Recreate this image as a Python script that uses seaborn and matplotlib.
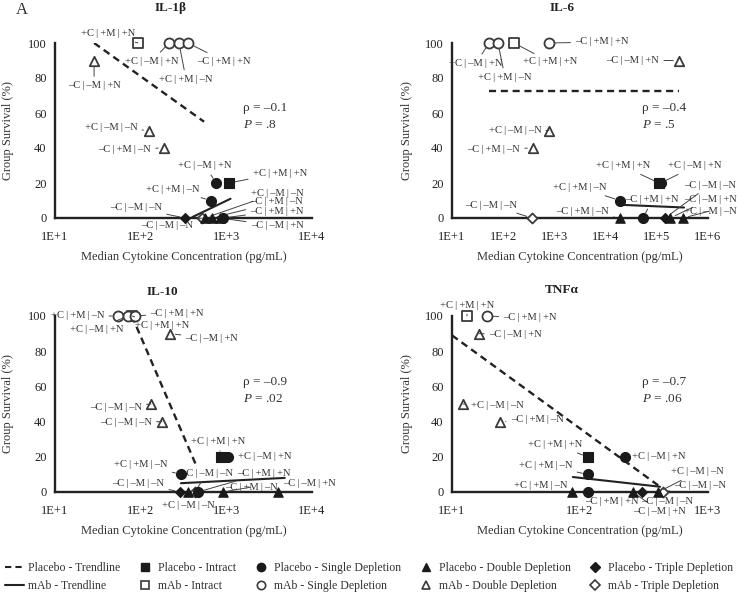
import numpy as np
import pandas as pd
import matplotlib.pyplot as plt
from matplotlib.lines import Line2D
import seaborn as sns

sns.set_theme(style='white')
plt.rcParams['font.family'] = ['Liberation Serif', 'DejaVu Serif']
plt.rcParams['mathtext.fontset'] = 'custom'
plt.rcParams['mathtext.rm'] = 'Liberation Serif'
plt.rcParams['mathtext.it'] = 'Liberation Serif:italic'

# ---- data ----
# IL-1beta
il1b_group = ['mAb', 'mAb', 'mAb', 'mAb', 'mAb', 'mAb', 'mAb', 'Placebo', 'Placebo', 'Placebo',
              'Placebo', 'mAb', 'Placebo', 'Placebo', 'Placebo', 'Placebo']
il1b_kind = ['Intract', 'Single', 'Single', 'Single', 'Double', 'Double', 'Double', 'Single', 'Intract', 'Single',
             'Triple', 'Triple', 'Double', 'Double', 'Double', 'Single']
il1b_label = ['+C|+M|+N', '+C|–M|+N', '+C|+M|–N', '–C|+M|+N', '–C|–M|+N', '+C|–M|–N', '–C|+M|–N', '+C|–M|+N', '+C|+M|+N', '+C|+M|–N',
              '–C|–M|–N', '–C|–M|–N', '+C|–M|–N', '–C|+M|–N', '–C|–M|+N', '–C|+M|+N']
il1b_conc = [93, 214, 280, 356, 28.6, 125, 186, 760, 1070, 660, 330, 523, 563, 676, 845, 910]
il1b_surv = [100, 100, 100, 100, 90, 50, 40, 20, 20, 10, 0, 0, 0, 0, 0, 0]
il1b_placebo_trend = ([28.6, 550], [100, 55])
il1b_mab_trend = ([400, 1120], [0.5, 11])

# IL-6
il6_group = ['mAb', 'mAb', 'mAb', 'mAb', 'mAb', 'mAb', 'mAb', 'mAb', 'Placebo', 'Placebo',
             'Placebo', 'Placebo', 'Placebo', 'Placebo', 'Placebo', 'Placebo']
il6_kind = ['Single', 'Single', 'Intract', 'Single', 'Double', 'Double', 'Double', 'Triple', 'Intract', 'Single',
            'Single', 'Double', 'Single', 'Triple', 'Double', 'Double']
il6_label = ['+C|–M|+N', '+C|+M|–N', '+C|+M|+N', '–C|+M|+N', '–C|–M|+N', '+C|–M|–N', '–C|+M|–N', '–C|–M|–N', '+C|+M|+N', '+C|–M|+N',
             '+C|+M|–N', '–C|+M|–N', '–C|+M|+N', '–C|–M|–N', '–C|–M|+N', '+C|–M|–N']
il6_conc = [53, 79, 163, 780, 270000, 780, 380, 365, 110000, 120000, 19000, 19000, 54000, 145000, 183000, 325000]
il6_surv = [100, 100, 100, 100, 90, 50, 40, 0, 20, 20, 10, 0, 0, 0, 0, 0]
il6_placebo_trend = ([53, 270000], [72.5, 72.5])
il6_mab_trend = ([21000, 340000], [7.5, 6])

# IL-10
il10_group = ['mAb', 'mAb', 'mAb', 'mAb', 'mAb', 'mAb', 'mAb', 'Placebo', 'Placebo', 'Placebo',
              'Placebo', 'Placebo', 'mAb', 'Placebo', 'Placebo', 'Placebo']
il10_kind = ['Single', 'Single', 'Intract', 'Single', 'Double', 'Double', 'Double', 'Intract', 'Single', 'Single',
             'Triple', 'Double', 'Triple', 'Single', 'Double', 'Double']
il10_label = ['+C|+M|–N', '+C|–M|+N', '+C|+M|+N', '–C|+M|+N', '–C|–M|+N', '–C|–M|–N', '–C|–M|–N', '+C|+M|+N', '+C|–M|+N', '+C|+M|–N',
              '–C|–M|–N', '+C|–M|–N', '–C|–M|–N', '–C|+M|+N', '–C|+M|–N', '–C|–M|+N']
il10_conc = [54, 71, 79, 86, 219, 132, 177, 870, 1050, 295, 290, 355, 430, 465, 910, 4000]
il10_surv = [100, 100, 100, 100, 90, 50, 40, 20, 20, 10, 0, 0, 0, 0, 0, 0]
il10_placebo_trend = ([79, 455], [100, 14])
il10_mab_trend = ([295, 4800], [5, 8])

# TNF-alpha
tnf_group = ['mAb', 'mAb', 'mAb', 'mAb', 'mAb', 'Placebo', 'Placebo', 'Placebo', 'Placebo', 'Placebo',
             'Placebo', 'Placebo', 'Placebo', 'mAb']
tnf_kind = ['Intract', 'Single', 'Double', 'Double', 'Double', 'Intract', 'Single', 'Single', 'Double', 'Single',
            'Double', 'Triple', 'Double', 'Triple']
tnf_label = ['+C|+M|+N', '–C|+M|+N', '–C|–M|+N', '+C|–M|–N', '–C|+M|–N', '+C|+M|+N', '+C|–M|+N', '+C|+M|–N', '+C|+M|–N', '–C|+M|+N',
             '–C|–M|+N', '–C|–M|–N', '+C|–M|–N', '–C|–M|–N']
tnf_conc = [13.1, 18.8, 16.3, 12.2, 23.7, 115, 225, 115, 87, 115, 258, 303, 410, 445]
tnf_surv = [100, 100, 90, 50, 40, 20, 20, 10, 0, 0, 0, 0, 0, 0]
tnf_placebo_trend = ([10, 422], [89, 3])
tnf_mab_trend = ([88, 422], [8.5, 3])

titles = ['IL-1β', 'IL-6', 'IL-10', 'TNFα']
rho_text = ['–0.1', '–0.4', '–0.9', '–0.7']
p_text = ['.8', '.5', '.02', '.06']
decades = [(1, 4), (1, 6), (1, 4), (1, 3)]

# ---- label placement (pixel offsets from each point) ----
il1b_offsets = [(-30, 9), (-17, -18), (7, -36), (36, -18), (0, -25), (-38, 3), (-39, -1), (-11, 17),
                (51, 10), (-38, 11), (-49, 10), (-35, -8), (72, 25), (65, 16), (57, -8), (54, 7)]
il6_offsets = [(-13, -20), (7, -34), (36, -19), (53, 1), (-46, 0), (-34, 0), (-39, -1), (-41, 13),
               (-36, 17), (34, 17), (-40, 13), (-37, 7), (9, 18), (45, 33), (40, 19), (27, 7)]
il10_offsets = [(-40, 0), (-31, -13), (30, -9), (42, 3), (42, -5), (-35, -3), (-36, -1), (-3, 15),
                (37, 0), (-40, 10), (-42, 9), (1, -13), (12, 19), (66, 19), (29, 5), (32, 9)]
tnf_offsets = [(0, 11), (43, -2), (36, -1), (34, -2), (37, 2), (-33, 12), (34, 0), (-42, 9),
               (-32, 7), (24, -10), (27, -19), (25, -10), (39, 20), (37, 7)]

panels = [
    (il1b_group, il1b_kind, il1b_label, il1b_conc, il1b_surv, il1b_placebo_trend, il1b_mab_trend, il1b_offsets),
    (il6_group, il6_kind, il6_label, il6_conc, il6_surv, il6_placebo_trend, il6_mab_trend, il6_offsets),
    (il10_group, il10_kind, il10_label, il10_conc, il10_surv, il10_placebo_trend, il10_mab_trend, il10_offsets),
    (tnf_group, tnf_kind, tnf_label, tnf_conc, tnf_surv, tnf_placebo_trend, tnf_mab_trend, tnf_offsets),
]

markers = {'Intract': 's', 'Single': 'o', 'Double': '^', 'Triple': 'D'}
sizes = {'Intract': 42, 'Single': 52, 'Double': 46, 'Triple': 26}
ink = '#1a1a1a'
edge = '#3a3a3a'

W, H = 739, 593
fig = plt.figure(figsize=(7.39, 5.93), dpi=100)
ax_rects = [(55, 43, 312, 218), (452, 43, 708, 218), (55, 316, 312, 492), (452, 316, 708, 492)]

for i, (group, kind, label, conc, surv, ptrend, mtrend, offs) in enumerate(panels):
    x0, y0, x1, y1 = ax_rects[i]
    ax = fig.add_axes([x0 / W, 1 - y1 / H, (x1 - x0) / W, (y1 - y0) / H])
    df = pd.DataFrame({'group': group, 'kind': kind, 'label': label, 'conc': conc, 'surv': surv})

    ax.plot(ptrend[0], ptrend[1], color='#222', lw=1.7, dashes=(3, 2), zorder=2)
    ax.plot(mtrend[0], mtrend[1], color='#222', lw=1.5, zorder=2)

    for (g, k), sub in df.groupby(['group', 'kind']):
        if g == 'Placebo':
            sns.scatterplot(data=sub, x='conc', y='surv', ax=ax, marker=markers[k], s=sizes[k],
                            color=ink, edgecolor=ink, linewidth=0.8, clip_on=False, zorder=4)
        else:
            sns.scatterplot(data=sub, x='conc', y='surv', ax=ax, marker=markers[k], s=sizes[k],
                            color='white', edgecolor=edge, linewidth=1.3, clip_on=False, zorder=3)

    for (lab, cx, sy), (dx, dy) in zip(zip(df['label'], df['conc'], df['surv']), offs):
        ax.annotate(lab.replace('|', '\u2009|\u2009'), xy=(cx, sy), xytext=(dx, dy), textcoords='offset pixels',
                    ha='center', va='center', fontsize=7.6, color='#333', annotation_clip=False,
                    arrowprops=dict(arrowstyle='-', color='#444', lw=0.7, shrinkA=1, shrinkB=4))

    lo, hi = decades[i]
    ax.set_xscale('log')
    ax.set_xlim(10 ** lo, 10 ** hi)
    ax.set_ylim(0, 100)
    ax.set_xticks([10 ** k for k in range(lo, hi + 1)])
    ax.set_xticklabels([f'1E+{k}' for k in range(lo, hi + 1)])
    ax.minorticks_off()
    ax.set_yticks([0, 20, 40, 60, 80, 100])
    ax.tick_params(axis='x', direction='inout', length=6, width=1.2, colors='#222', labelsize=9, pad=6)
    ax.tick_params(axis='y', direction='out', length=4, width=1.2, colors='#222', labelsize=9, pad=2)
    sns.despine(ax=ax)
    for s in ['left', 'bottom']:
        ax.spines[s].set_linewidth(1.7)
        ax.spines[s].set_color('#222')
    ax.set_xlabel('Median Cytokine Concentration (pg/mL)', fontsize=9, color='#333')
    ax.set_ylabel('Group Survival (%)', fontsize=9, color='#333')
    ax.xaxis.set_label_coords(0.5, -0.19)
    ax.yaxis.set_label_coords(-0.16 if i % 2 == 0 else -0.152, 0.5)

    rx = 243 if i % 2 == 0 else 642
    ry = 108 if i < 2 else 382
    fig.text(rx / W, 1 - ry / H, f'ρ = {rho_text[i]}', fontsize=9.5, color='#333', ha='left', va='center')
    fig.text(rx / W, 1 - (ry + 17) / H, f'$P$ = {p_text[i]}', fontsize=9.5, color='#333', ha='left', va='center')

title_pos = [(171, 8), (562, 8), (162, 292), (562, 290)]
for t, (tx, ty) in zip(titles, title_pos):
    fig.text(tx / W, 1 - ty / H, t, fontsize=9.5, fontweight='bold', color='#222', ha='center', va='center')
fig.text(22 / W, 1 - 10 / H, 'A', fontsize=12, color='#333', ha='center', va='center')

handles = [
    Line2D([], [], color='#222', lw=1.5, dashes=(3, 2)),
    Line2D([], [], color='#222', lw=1.5),
    Line2D([], [], ls='none', marker='s', ms=6, mfc=ink, mec=ink),
    Line2D([], [], ls='none', marker='s', ms=6, mfc='white', mec=edge, mew=1.2),
    Line2D([], [], ls='none', marker='o', ms=6, mfc=ink, mec=ink),
    Line2D([], [], ls='none', marker='o', ms=6, mfc='white', mec=edge, mew=1.2),
    Line2D([], [], ls='none', marker='^', ms=6, mfc=ink, mec=ink),
    Line2D([], [], ls='none', marker='^', ms=6, mfc='white', mec=edge, mew=1.2),
    Line2D([], [], ls='none', marker='D', ms=5, mfc=ink, mec=ink),
    Line2D([], [], ls='none', marker='D', ms=5, mfc='white', mec=edge, mew=1.2),
]
labels = ['Placebo - Trendline', 'mAb - Trendline', 'Placebo - Intract', 'mAb - Intract',
          'Placebo - Single Depletion', 'mAb - Single Depletion', 'Placebo - Double Depletion',
          'mAb - Double Depletion', 'Placebo - Triple Depletion', 'mAb - Triple Depletion']
fig.legend(handles, labels, loc='center', bbox_to_anchor=(0.5, 1 - 577 / H), ncol=5, frameon=False,
           fontsize=8.5, handlelength=1.6, handletextpad=0.3, columnspacing=1.3, labelspacing=0.45,
           labelcolor='#333')

fig.savefig('out.png', dpi=100)
